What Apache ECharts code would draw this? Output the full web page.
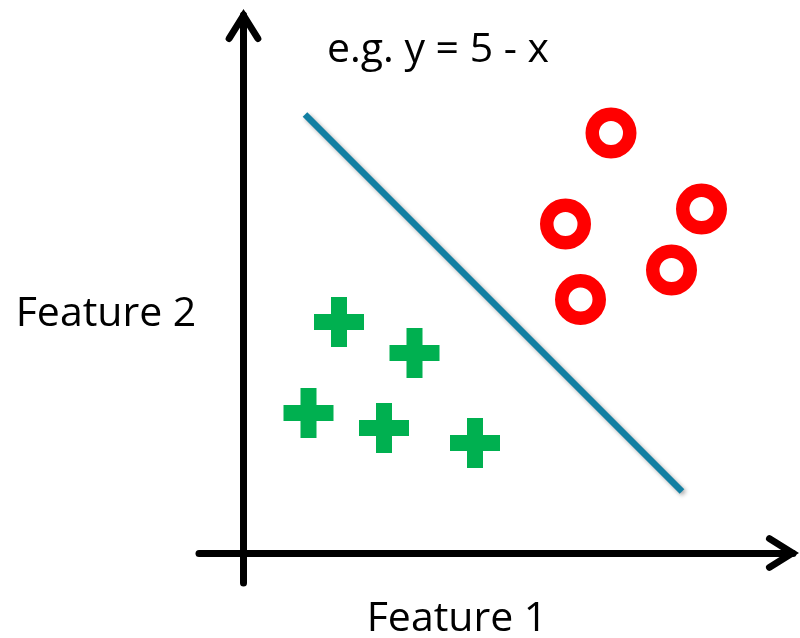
<!DOCTYPE html>
<html>
<head>
<meta charset="utf-8">
<title>Linear classifier</title>
<script src="https://cdn.jsdelivr.net/npm/echarts@6/dist/echarts.min.js"></script>
<style>
html, body { margin: 0; padding: 0; background: #fff; }
#main { width: 800px; height: 638px; }
</style>
</head>
<body>
<div id="main"></div>
<script>
// decision line y = 5 - x
var lineX = [0.615, 4.385];
var lineY = [4.385, 0.615];
// class A (green plus)
var plusX = [0.955, 1.71, 0.65, 1.405, 2.315];
var plusY = [2.31, 2.00, 1.40, 1.25, 1.10];
// class B (red ring)
var ringX = [3.675, 4.58, 3.22, 4.28, 3.37];
var ringY = [4.20, 3.44, 3.29, 2.83, 2.535];
// axis ranges
var xRange = [-0.445, 5.495];
var yRange = [-0.30, 5.38];
var titleText = 'e.g. y = 5 - x';
var xName = 'Feature 1';
var yName = 'Feature 2';

function pairs(xs, ys) {
    var out = [];
    for (var i = 0; i < xs.length; i++) {
        out.push([xs[i], ys[i]]);
    }
    return out;
}

var arrowPath = 'path://M18,0 L35.49,27.98 A3.5,3.5 0 0 1 29.55,31.69 L18,13.2 L6.45,31.69 A3.5,3.5 0 0 1 0.51,27.98 Z';
var plusPath = 'path://M17,0 H33 V17 H50 V33 H33 V50 H17 V33 H0 V17 H17 Z';

var axisLine = {
    show: true,
    onZero: true,
    symbol: ['none', arrowPath],
    symbolSize: [36, 33],
    symbolOffset: [0, -10.5],
    lineStyle: { color: '#000', width: 7 }
};

var myChart = echarts.init(document.getElementById('main'));
var font = '41px "Open Sans", Lato, sans-serif';

var option = {
    animation: false,
    backgroundColor: '#fff',
    grid: { left: 199, right: 7, top: 15, bottom: 55 },
    xAxis: {
        type: 'value',
        min: xRange[0],
        max: xRange[1],
        axisLine: axisLine,
        axisTick: { show: false },
        axisLabel: { show: false },
        splitLine: { show: false }
    },
    yAxis: {
        type: 'value',
        min: yRange[0],
        max: yRange[1],
        axisLine: axisLine,
        axisTick: { show: false },
        axisLabel: { show: false },
        splitLine: { show: false }
    },
    graphic: [
        { type: 'text', x: 438, y: 50, style: { text: titleText, font: font, fill: '#000', align: 'center', verticalAlign: 'middle' } },
        { type: 'text', x: 106, y: 314, style: { text: yName, font: font, fill: '#000', align: 'center', verticalAlign: 'middle' } },
        { type: 'text', x: 457, y: 619, style: { text: xName, font: font, fill: '#000', align: 'center', verticalAlign: 'middle' } }
    ],
    series: [
        {
            type: 'line',
            data: pairs(lineX, lineY),
            symbol: 'none',
            lineStyle: {
                color: '#117fa2',
                width: 6.5,
                shadowColor: 'rgba(0,0,0,0.35)',
                shadowBlur: 4,
                shadowOffsetX: 2,
                shadowOffsetY: 2
            },
            z: 3
        },
        {
            type: 'scatter',
            data: pairs(plusX, plusY),
            symbol: plusPath,
            symbolSize: 50,
            itemStyle: { color: '#00b050', opacity: 1 },
            z: 4
        },
        {
            type: 'scatter',
            data: pairs(ringX, ringY),
            symbol: 'circle',
            symbolSize: 37.5,
            itemStyle: { color: '#fff', borderColor: '#ff0000', borderWidth: 13.5, opacity: 1 },
            z: 4
        }
    ]
};
myChart.setOption(option);
</script>
</body>
</html>
